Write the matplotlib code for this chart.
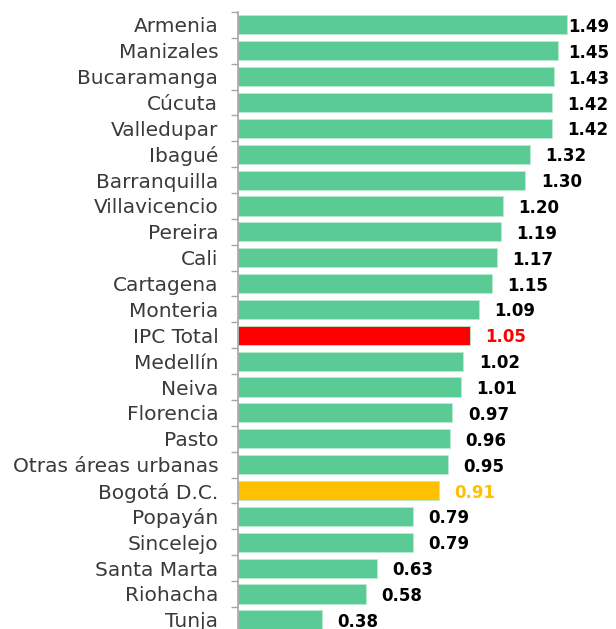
import numpy as np
import matplotlib.pyplot as plt

# Ciudades y variación (%) - de arriba hacia abajo
ciudades = ["Armenia", "Manizales", "Bucaramanga", "Cúcuta", "Valledupar", "Ibagué",
            "Barranquilla", "Villavicencio", "Pereira", "Cali", "Cartagena", "Monteria",
            "IPC Total", "Medellín", "Neiva", "Florencia", "Pasto", "Otras áreas urbanas",
            "Bogotá D.C.", "Popayán", "Sincelejo", "Santa Marta", "Riohacha", "Tunja"]
valores = [1.49, 1.45, 1.43, 1.42, 1.42, 1.32, 1.30, 1.20, 1.19, 1.17, 1.15, 1.09,
           1.05, 1.02, 1.01, 0.97, 0.96, 0.95, 0.91, 0.79, 0.79, 0.63, 0.58, 0.38]

verde = "#5ACB94"
colores = [verde] * len(ciudades)
colores_txt = ["black"] * len(ciudades)
colores[ciudades.index("IPC Total")] = "#FF0000"
colores_txt[ciudades.index("IPC Total")] = "#FF0000"
colores[ciudades.index("Bogotá D.C.")] = "#FFC000"
colores_txt[ciudades.index("Bogotá D.C.")] = "#FFC000"

fig = plt.figure(figsize=(6.16, 6.29), dpi=100)
ax = fig.add_axes([0.386, -0.006, 0.614, 0.987])

y = np.arange(len(ciudades))
ax.barh(y, valores, height=0.74, color=colores, edgecolor="#B8EBCF", linewidth=0.6)

# etiqueta de valor; la barra más larga la deja pegada al borde
for yi, v, c in zip(y, valores, colores_txt):
    xt = min(v + 0.07, 1.495)
    ax.text(xt, yi + 0.08, f"{v:.2f}", va="center", ha="left",
            fontsize=12, fontweight="bold", color=c)

ax.set_ylim(len(ciudades) - 0.5, -0.5)
ax.set_xlim(0, 1.71)
ax.set_yticks(y)
ax.set_yticklabels(ciudades, fontsize=14.5, color="#3A3A3A")
ax.tick_params(axis="y", which="major", length=0, pad=14)
ax.set_yticks(np.arange(-0.5, len(ciudades), 1), minor=True)
ax.tick_params(axis="y", which="minor", length=5, color="#A6A6A6", width=1)
ax.set_xticks([])

for s in ["top", "right", "bottom"]:
    ax.spines[s].set_visible(False)
ax.spines["left"].set_color("#A6A6A6")
ax.spines["left"].set_linewidth(1.2)

fig.savefig("out.png", dpi=100)
